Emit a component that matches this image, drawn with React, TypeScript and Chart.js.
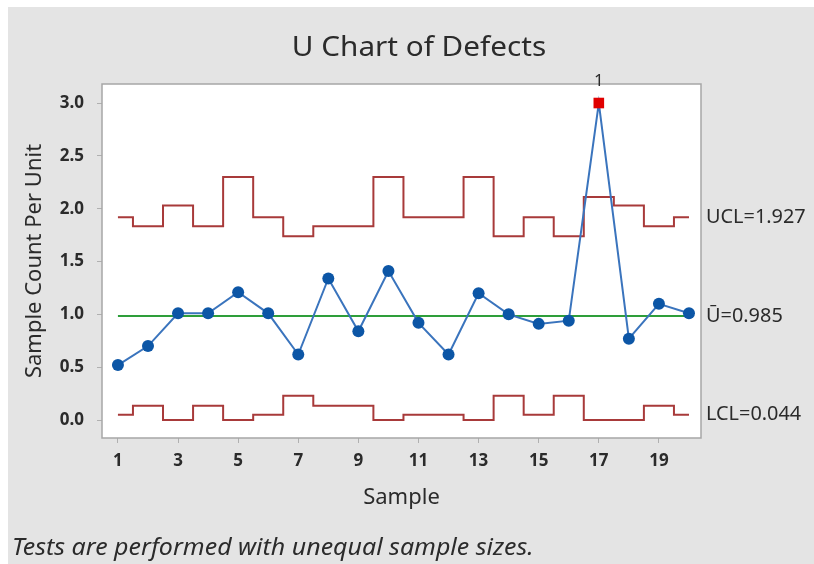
import { useEffect, useRef } from "react";
import { Chart, registerables } from "chart.js";

Chart.register(...registerables);

const samples = [1, 2, 3, 4, 5, 6, 7, 8, 9, 10, 11, 12, 13, 14, 15, 16, 17, 18, 19, 20];
const uValues = [0.52, 0.7, 1.01, 1.01, 1.21, 1.01, 0.62, 1.34, 0.84, 1.41, 0.92, 0.62, 1.2, 1.0, 0.91, 0.94, 3.0, 0.77, 1.1, 1.01];
const uclValues = [1.92, 1.835, 2.03, 1.835, 2.3, 1.92, 1.74, 1.835, 1.835, 2.3, 1.92, 1.92, 2.3, 1.74, 1.92, 1.74, 2.11, 2.03, 1.835, 1.92];
const lclValues = [0.05, 0.135, 0, 0.135, 0, 0.05, 0.23, 0.135, 0.135, 0, 0.05, 0.05, 0, 0.23, 0.05, 0.23, 0, 0, 0.135, 0.05];
const centerValue = 0.985;
const xTickValues = [1, 3, 5, 7, 9, 11, 13, 15, 17, 19];
const yTickValues = [0, 0.5, 1, 1.5, 2, 2.5, 3];
const outOfControlSamples = [17];
const failLabel = "1";
const uclLabel = "UCL=1.927";
const centerLabel = "\u016A=0.985";
const lclLabel = "LCL=0.044";
const titleText = "U Chart of Defects";
const xTitle = "Sample";
const yTitle = "Sample Count Per Unit";
const footnote = "Tests are performed with unequal sample sizes.";

const FONT = "'Noto Sans', 'Open Sans', sans-serif";
const TEXT = "#2b2b2b";

function stretchedText(ctx: CanvasRenderingContext2D, text: string, x: number, y: number, sx: number, align: CanvasTextAlign) {
  ctx.save();
  ctx.translate(x, y);
  ctx.scale(sx, 1);
  ctx.textAlign = align;
  ctx.fillText(text, 0, 0);
  ctx.restore();
}

export default function App() {
  const ref = useRef<HTMLCanvasElement | null>(null);

  useEffect(() => {
    const canvas = ref.current;
    if (!canvas) return;

    const framePlugin = {
      id: "frame",
      beforeDraw(chart: any) {
        const { ctx, chartArea } = chart;
        ctx.save();
        ctx.fillStyle = "#e4e4e4";
        ctx.fillRect(0, 0, chart.width, chart.height);
        ctx.fillStyle = "#ffffff";
        ctx.fillRect(chartArea.left, chartArea.top, chartArea.right - chartArea.left, chartArea.bottom - chartArea.top);
        ctx.restore();
      },
      afterDraw(chart: any) {
        const { ctx, chartArea, scales } = chart;
        ctx.save();
        ctx.strokeStyle = "#a6a6a6";
        ctx.lineWidth = 1.5;
        ctx.strokeRect(chartArea.left, chartArea.top, chartArea.right - chartArea.left, chartArea.bottom - chartArea.top);

        const y = scales.y;
        ctx.fillStyle = TEXT;
        ctx.textBaseline = "middle";

        ctx.font = `28px ${FONT}`;
        stretchedText(ctx, titleText, 411, 41, 1.06, "center");

        ctx.font = `19.5px ${FONT}`;
        const lx = chartArea.right + 5;
        stretchedText(ctx, uclLabel, lx, y.getPixelForValue(uclValues[uclValues.length - 1]), 1.02, "left");
        stretchedText(ctx, centerLabel, lx, y.getPixelForValue(centerValue), 1.02, "left");
        stretchedText(ctx, lclLabel, lx, y.getPixelForValue(lclValues[lclValues.length - 1]), 1.02, "left");

        ctx.font = `17px ${FONT}`;
        outOfControlSamples.forEach((s) => {
          const idx = samples.indexOf(s);
          const px = scales.x.getPixelForValue(s);
          const py = y.getPixelForValue(uValues[idx]);
          stretchedText(ctx, failLabel, px, py - 22, 1, "center");
        });

        ctx.font = `italic 23px ${FONT}`;
        stretchedText(ctx, footnote, 4, 541, 1.085, "left");
        ctx.restore();
      },
    };

    const chart = new Chart(canvas, {
      type: "line",
      data: {
        datasets: [
          {
            label: "U",
            data: samples.map((s, i) => ({ x: s, y: uValues[i] })),
            borderColor: "#3a74bd",
            borderWidth: 2,
            pointRadius: samples.map((s) => (outOfControlSamples.includes(s) ? 7.5 : 6)),
            pointStyle: samples.map((s) => (outOfControlSamples.includes(s) ? "rect" : "circle")) as any,
            pointBackgroundColor: samples.map((s) => (outOfControlSamples.includes(s) ? "#e00000" : "#0c56a6")),
            pointBorderWidth: 0,
            tension: 0,
          },
          {
            label: "Center",
            data: [
              { x: samples[0], y: centerValue },
              { x: samples[samples.length - 1], y: centerValue },
            ],
            borderColor: "#2e9e3a",
            borderWidth: 2,
            pointRadius: 0,
          },
          {
            label: "UCL",
            data: samples.map((s, i) => ({ x: s, y: uclValues[i] })),
            borderColor: "#a83a3a",
            borderWidth: 2,
            pointRadius: 0,
            stepped: "middle",
          },
          {
            label: "LCL",
            data: samples.map((s, i) => ({ x: s, y: lclValues[i] })),
            borderColor: "#a83a3a",
            borderWidth: 2,
            pointRadius: 0,
            stepped: "middle",
          },
        ],
      },
      options: {
        animation: false,
        responsive: false,
        layout: { padding: { left: 8, right: 113, top: 77, bottom: 46 } },
        plugins: {
          legend: { display: false },
          tooltip: { enabled: false },
          title: { display: false },
        },
        scales: {
          x: {
            type: "linear",
            min: 0.47,
            max: 20.4,
            afterBuildTicks: (scale: any) => {
              scale.ticks = xTickValues.map((v) => ({ value: v }));
            },
            afterFit: (scale: any) => {
              scale.height = 80;
            },
            grid: { drawOnChartArea: false, drawTicks: true, tickLength: 5, color: "#b0b0b0" },
            border: { display: false },
            ticks: {
              color: TEXT,
              font: { family: FONT, size: 17, weight: "bold" },
              padding: 8,
              maxRotation: 0,
              autoSkip: false,
              callback: (v: any) => String(v),
            },
            title: {
              display: true,
              text: xTitle,
              color: TEXT,
              font: { family: FONT, size: 22 },
              padding: { top: 0, bottom: 7 },
            },
          },
          y: {
            type: "linear",
            min: -0.17,
            max: 3.18,
            afterBuildTicks: (scale: any) => {
              scale.ticks = yTickValues.map((v) => ({ value: v }));
            },
            afterFit: (scale: any) => {
              scale.width = 86;
            },
            grid: { drawOnChartArea: false, drawTicks: true, tickLength: 5, color: "#b0b0b0" },
            border: { display: false },
            ticks: {
              color: TEXT,
              font: { family: FONT, size: 17, weight: "bold" },
              padding: 13,
              autoSkip: false,
              callback: (v: any) => Number(v).toFixed(1),
            },
            title: {
              display: true,
              text: yTitle,
              color: TEXT,
              font: { family: FONT, size: 22 },
              padding: { top: 6, bottom: 0 },
            },
          },
        },
      },
      plugins: [framePlugin],
    });

    return () => chart.destroy();
  }, []);

  return (
    <div style={{ position: "fixed", left: 8, top: 7, width: 806, height: 557 }}>
      <canvas ref={ref} width={806} height={557} style={{ display: "block" }} />
    </div>
  );
}
